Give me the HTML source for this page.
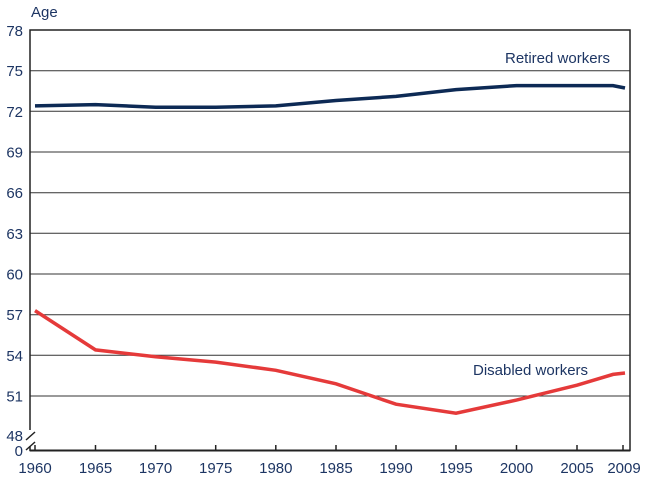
<!DOCTYPE html>
<html><head><style>
body{margin:0;background:#fff;}
svg text{font-family:"Liberation Sans",sans-serif;font-size:15px;fill:#1d3563;}
</style></head><body>
<svg width="650" height="479" xmlns="http://www.w3.org/2000/svg">
<g stroke="#333" stroke-width="1">
<line x1="30" y1="70.7" x2="630" y2="70.7"/>
<line x1="30" y1="111.3" x2="630" y2="111.3"/>
<line x1="30" y1="152" x2="630" y2="152"/>
<line x1="30" y1="192.7" x2="630" y2="192.7"/>
<line x1="30" y1="233.3" x2="630" y2="233.3"/>
<line x1="30" y1="274" x2="630" y2="274"/>
<line x1="30" y1="314.7" x2="630" y2="314.7"/>
<line x1="30" y1="355.3" x2="630" y2="355.3"/>
<line x1="30" y1="396" x2="630" y2="396"/>
</g>
<rect x="30" y="30" width="600" height="420.5" fill="none" stroke="#222" stroke-width="1.5"/>
<line x1="30" y1="450.5" x2="630" y2="450.5" stroke="#222" stroke-width="2"/>
<line x1="30" y1="430" x2="30" y2="446" stroke="#fff" stroke-width="4"/>
<g stroke="#222" stroke-width="1.5">
<line x1="26" y1="440" x2="35" y2="432"/>
<line x1="26" y1="450" x2="35" y2="442"/>
</g>
<g stroke="#222" stroke-width="1.5">
<line x1="35" y1="445" x2="35" y2="450"/><line x1="95.5" y1="445" x2="95.5" y2="450"/>
<line x1="155.6" y1="445" x2="155.6" y2="450"/><line x1="215.7" y1="445" x2="215.7" y2="450"/>
<line x1="275.8" y1="445" x2="275.8" y2="450"/><line x1="336" y1="445" x2="336" y2="450"/>
<line x1="396" y1="445" x2="396" y2="450"/><line x1="456" y1="445" x2="456" y2="450"/>
<line x1="516.5" y1="445" x2="516.5" y2="450"/><line x1="577" y1="445" x2="577" y2="450"/>
<line x1="623" y1="445" x2="623" y2="450"/>
</g>
<text x="31" y="17">Age</text>
<g text-anchor="end">
<text x="23" y="36">78</text><text x="23" y="76.2">75</text><text x="23" y="116.8">72</text>
<text x="23" y="157.5">69</text><text x="23" y="198.2">66</text><text x="23" y="238.8">63</text>
<text x="23" y="279.5">60</text><text x="23" y="320.2">57</text><text x="23" y="360.8">54</text>
<text x="23" y="401.5">51</text><text x="23" y="441">48</text><text x="23" y="456">0</text>
</g>
<g text-anchor="middle">
<text x="35" y="473">1960</text><text x="95.5" y="473">1965</text><text x="155.6" y="473">1970</text>
<text x="215.7" y="473">1975</text><text x="275.8" y="473">1980</text><text x="336" y="473">1985</text>
<text x="396" y="473">1990</text><text x="456" y="473">1995</text><text x="516.5" y="473">2000</text>
<text x="577" y="473">2005</text><text x="624" y="473">2009</text>
</g>
<polyline fill="none" stroke="#0d2a55" stroke-width="3.5" points="35,105.9 95.5,104.6 155.6,107.3 215.7,107.3 275.8,105.9 336,100.5 396,96.4 456,89.6 516.5,85.6 577,85.6 613,85.6 625,88"/>
<polyline fill="none" stroke="#e53a3a" stroke-width="3.5" points="35,310.6 95.5,349.9 155.6,356.7 215.7,362.1 275.8,370.3 336,383.8 396,404.2 456,413.2 516.5,400.1 577,385.2 613,374.4 625,373"/>
<text x="505" y="63">Retired workers</text>
<text x="473" y="375">Disabled workers</text>
</svg>
</body></html>
